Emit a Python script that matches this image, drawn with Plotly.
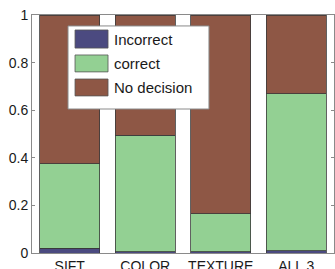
import plotly.graph_objects as go

categories = ["SIFT", "COLOR", "TEXTURE", "ALL 3"]
incorrect = [0.02, 0.005, 0.005, 0.01]
correct_top = [0.375, 0.495, 0.165, 0.67]
correct = [c - i for c, i in zip(correct_top, incorrect)]
no_decision = [1 - c for c in correct_top]
series_names = ["Incorrect", "correct", "No decision"]
colors = ["#4b4a80", "#93d093", "#8e5745"]
y_ticks = [0, 0.2, 0.4, 0.6, 0.8, 1]
y_tick_text = ["0", "0.2", "0.4", "0.6", "0.8", "1"]

fig = go.Figure()
for name, vals, col in zip(series_names, [incorrect, correct, no_decision], colors):
    fig.add_trace(go.Bar(
        x=categories, y=vals, name=name, marker_color=col,
        marker_line=dict(color="#3a3a3a", width=0.8), showlegend=False,
    ))

# manual legend (MATLAB style) in data coordinates
box = dict(x0=-0.023, x1=1.844, y0=0.605, y1=0.954)
fig.add_shape(type="rect", xref="x", yref="y", layer="above", **box,
              fillcolor="white", line=dict(color="#8a8a8a", width=1))
sw_y = [(0.861, 0.937), (0.761, 0.832), (0.660, 0.731)]
txt_y = [0.895, 0.798, 0.697]
for name, col, (ya, yb), ty in zip(series_names, colors, sw_y, txt_y):
    fig.add_shape(type="rect", xref="x", yref="y", layer="above",
                  x0=0.07, x1=0.507, y0=ya, y1=yb,
                  fillcolor=col, line=dict(color="#555555", width=0.8))
    fig.add_annotation(x=0.56, y=ty, xref="x", yref="y", text=name,
                       showarrow=False, xanchor="left", yanchor="middle",
                       font=dict(size=15, color="#1a1a1a"))

fig.update_layout(
    barmode="stack", bargap=0.2,
    width=335, height=269,
    margin=dict(l=32, r=1, t=15, b=16),
    paper_bgcolor="white", plot_bgcolor="white",
    font=dict(family="Liberation Sans, Arial, sans-serif", color="#1a1a1a"),
)
fig.update_xaxes(range=[-0.5, 3.5], showline=True, mirror=True, automargin=False,
                 linecolor="#8a8a8a", linewidth=1, ticks="",
                 tickfont=dict(size=14), showgrid=False, ticklabelstandoff=0)
fig.update_yaxes(range=[0, 1], tickvals=y_ticks, ticktext=y_tick_text, automargin=False,
                 showline=True, mirror="ticks", linecolor="#8a8a8a", linewidth=1,
                 ticks="inside", ticklen=3, tickcolor="#8a8a8a",
                 tickfont=dict(size=14), showgrid=False, zeroline=False)

fig.write_html("out.html", config={"displayModeBar": False},
               post_script="document.body.style.margin='0';document.body.style.overflow='hidden';")
